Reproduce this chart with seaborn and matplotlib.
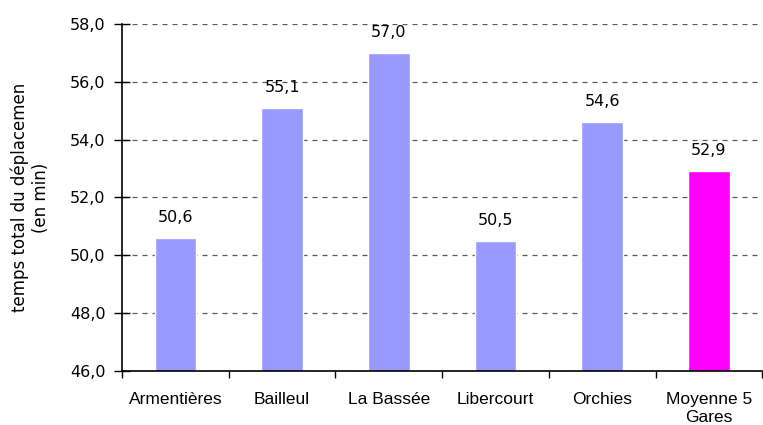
import matplotlib
matplotlib.use("Agg")
import matplotlib.pyplot as plt
import seaborn as sns
import pandas as pd
from matplotlib.ticker import FixedLocator, FuncFormatter

# Temps total du déplacement par gare (en minutes)
gares = ["Armentières", "Bailleul", "La Bassée", "Libercourt", "Orchies", "Moyenne 5\nGares"]
temps = [50.6, 55.1, 57.0, 50.5, 54.6, 52.9]
couleurs = ["#9999FF", "#9999FF", "#9999FF", "#9999FF", "#9999FF", "#FF00FF"]
graduations = [46.0, 48.0, 50.0, 52.0, 54.0, 56.0, 58.0]

sns.set_theme(style="white")
plt.rcParams["font.family"] = ["DejaVu Sans"]


def virgule(v, pos=None):
    return f"{v:.1f}".replace(".", ",")


df = pd.DataFrame({"gare": gares, "temps": temps})

fig = plt.figure(figsize=(7.63, 4.25), dpi=100)
ax = fig.add_axes([0.16, 0.127, 0.839, 0.817])

sns.barplot(data=df, x="gare", y="temps", hue="gare", palette=couleurs,
            legend=False, width=0.39, ax=ax, saturation=1, bottom=0)

ax.set_ylim(46, 58)
ax.set_xlim(-0.5, len(gares) - 0.5)
ax.yaxis.set_major_locator(FixedLocator(graduations))
ax.yaxis.set_major_formatter(FuncFormatter(virgule))
ax.grid(axis="y", color="#5a5a5a", linestyle=(0, (4, 4)), linewidth=0.9)
ax.set_axisbelow(True)

for s in ["top", "right"]:
    ax.spines[s].set_visible(False)
for s in ["left", "bottom"]:
    ax.spines[s].set_color("black")
    ax.spines[s].set_linewidth(1.2)

ax.tick_params(axis="y", which="major", direction="inout", length=12, width=1,
               color="black", left=True, labelsize=11.5, pad=6, labelcolor="black")
ax.tick_params(axis="x", which="major", length=0, pad=15, labelcolor="black")
for lab in ax.get_xticklabels():
    lab.set_fontfamily(["Liberation Sans", "DejaVu Sans"])
    lab.set_fontsize(12.5)
    lab.set_linespacing(1.3)
ax.xaxis.set_minor_locator(FixedLocator([i - 0.5 for i in range(len(gares) + 1)]))
ax.tick_params(axis="x", which="minor", direction="out", length=5, width=1,
               color="black", bottom=True)

for i, v in enumerate(temps):
    ax.text(i, v + 0.45, virgule(v), ha="center", va="bottom",
            fontsize=11.5, color="black")

ax.set_xlabel("")
ax.set_ylabel("temps total du déplacemen\n(en min)", fontsize=12, color="black",
              labelpad=14, linespacing=1.25)

fig.savefig("out.png", dpi=100)
